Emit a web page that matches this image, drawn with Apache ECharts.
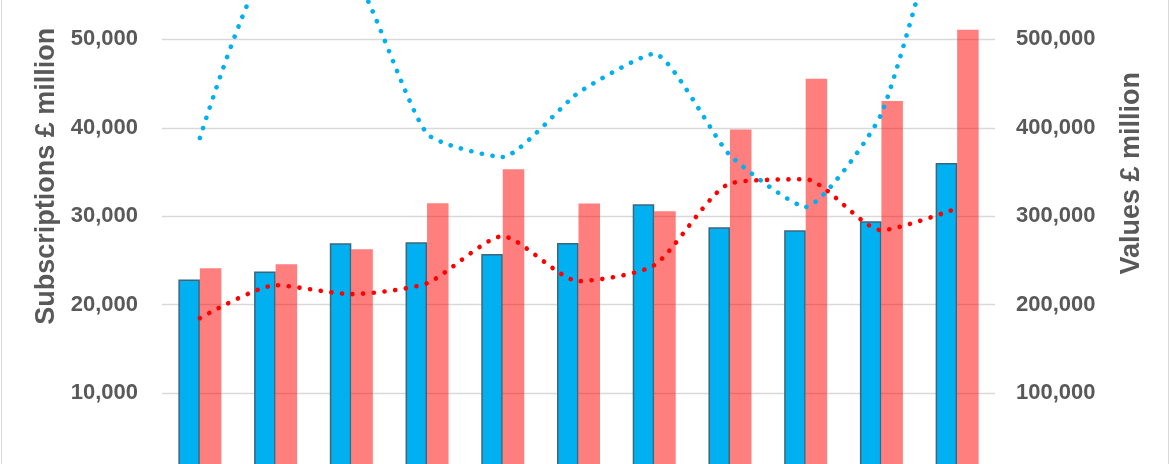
<!DOCTYPE html>
<html>
<head>
<meta charset="utf-8">
<script src="https://cdn.jsdelivr.net/npm/echarts@6/dist/echarts.min.js"></script>
<style>
html,body{margin:0;padding:0;background:#fff;overflow:hidden;width:1170px;height:464px;}
#chart{position:absolute;left:0;top:-60px;width:1170px;height:580px;}
</style>
</head>
<body>
<div id="chart"></div>
<script>
const categories = ['1','2','3','4','5','6','7','8','9','10','11'];
const subsBlue = [22850, 23750, 26950, 27060, 25740, 26980, 31360, 28760, 28420, 29440, 36020];
const subsRed  = [24120, 24580, 26270, 31470, 35310, 31430, 30560, 39800, 45560, 43030, 51100];
const valuesBlue = [388500, 592000, 578000, 393400, 367000, 439800, 483800, 369000, 310500, 416000, 715000];
const valuesRed  = [184700, 222000, 211900, 224300, 277400, 226600, 244600, 337000, 341800, 284200, 309000];
const leftName = 'Subscriptions £ million';
const rightName = 'Values £ million';

const chart = echarts.init(document.getElementById('chart'));
const font = 'Liberation Sans, Arial, sans-serif';
const labelStyle = {color:'#595959', fontSize:22, fontWeight:'bold', fontFamily:font};
const dotted = {type:[0.1, 10.6], cap:'round', width:4.6};

chart.setOption({
  animation:false,
  backgroundColor:'#fff',
  graphic:[{type:'rect', shape:{x:1.5, y:0, width:1167, height:580}, style:{fill:'none', stroke:'#D9D9D9', lineWidth:1}, silent:true, z:-1}],
  grid:{left:162, right:175, top:10.5, height:531, containLabel:false},
  xAxis:{type:'category', data:categories, axisLabel:{show:false}, axisTick:{show:false}, axisLine:{show:false}},
  yAxis:[
    {type:'value', min:0, max:60000, interval:10000, position:'left',
     name:leftName, nameLocation:'middle', nameGap:99, nameRotate:90,
     nameTextStyle:{color:'#595959', fontSize:27, fontWeight:'bold', fontFamily:font, padding:[0,0,0,80]},
     axisLabel:Object.assign({margin:24, formatter:v=>v.toLocaleString('en-GB')}, labelStyle),
     axisLine:{show:false}, axisTick:{show:false},
     splitLine:{lineStyle:{color:'#D9D9D9', width:1.3}}},
    {type:'value', min:0, max:600000, interval:100000, position:'right',
     name:rightName, nameLocation:'middle', nameGap:123, nameRotate:90,
     nameTextStyle:{color:'#595959', fontSize:27, fontWeight:'bold', fontFamily:font, padding:[0,0,0,86]},
     axisLabel:Object.assign({margin:21, formatter:v=>v.toLocaleString('en-GB')}, labelStyle),
     axisLine:{show:false}, axisTick:{show:false}, splitLine:{show:false}}
  ],
  series:[
    {type:'bar', data:subsBlue, yAxisIndex:0, barWidth:21.5, barGap:'0%',
     itemStyle:{color:'#00B0F0', borderColor:'#3F6578', borderWidth:1.5}},
    {type:'bar', data:subsRed, yAxisIndex:0, barWidth:21.5, barGap:'0%',
     itemStyle:{color:'rgba(255,0,0,0.5)'}},
    {type:'line', data:valuesBlue, yAxisIndex:1, smooth:0.18, showSymbol:false, z:5, clip:false,
     lineStyle:Object.assign({color:'#00B0F0'}, dotted)},
    {type:'line', data:valuesRed, yAxisIndex:1, smooth:0.22, showSymbol:false, z:6,
     lineStyle:Object.assign({color:'#FF0000'}, dotted)}
  ]
});
</script>
</body>
</html>
